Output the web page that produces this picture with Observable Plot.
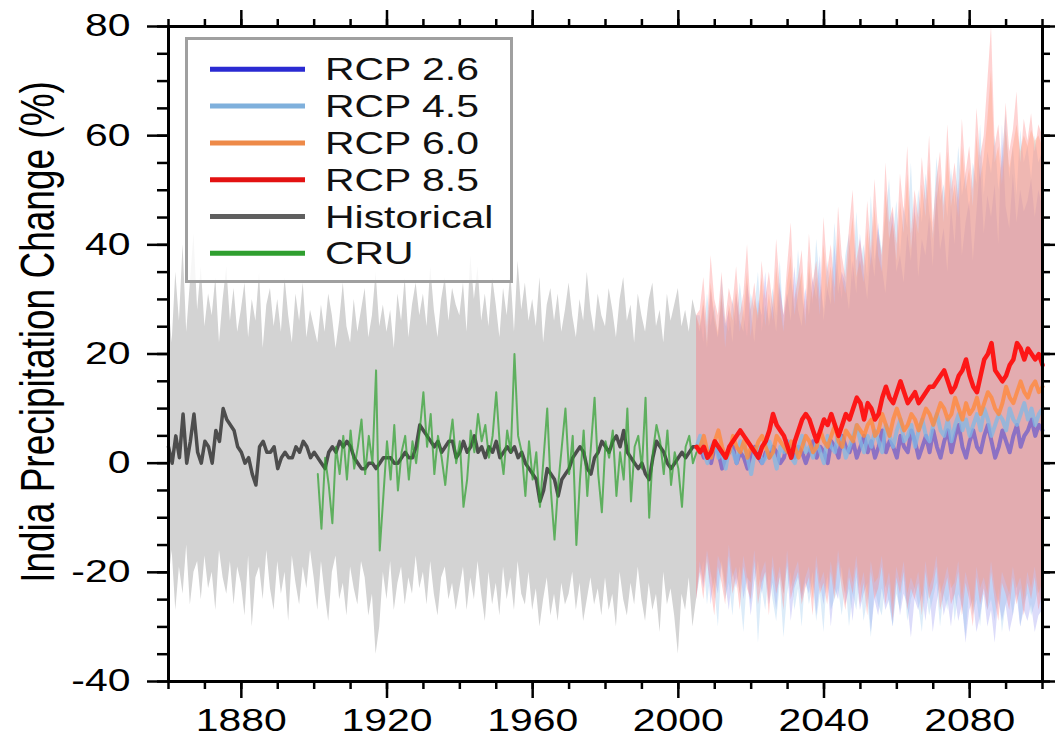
<!DOCTYPE html>
<html><head><meta charset="utf-8">
<script src="https://cdn.jsdelivr.net/npm/d3@7"></script>
<script src="https://cdn.jsdelivr.net/npm/@observablehq/plot@0.6"></script>
<style>
body{margin:0;background:#fff;}
#wrap{position:relative;width:1055px;height:736px;font-family:"Liberation Sans",Arial,sans-serif;}
</style></head>
<body><div id="wrap"></div>
<script>
// ---------- data ----------
const histStart = 1860, cruStart = 1901, rcpStart = 2006;
const histMean = [
3,0,5,1,9,0,4,9,2,0,
4,3,0,6,4,10,8,7,6,3,
2,0,1,-2,-4,3,4,2,2,3,
-1,1,2,1,1,3,2,4,3,1,
2,1,0,-1,2,3,2,4,3,4,
3,1,0,-1,-1,0,0,-1,0,1,
1,1,0,0,1,2,1,1,3,7,
6,5,4,3,4,2,3,4,4,1,
2,4,2,3,5,2,3,1,3,2,
4,1,2,3,2,3,1,2,0,-1,
-2,-3,-7,-5,-1,-2,-3,-6,-3,-2,
-1,1,2,3,2,-1,-2,1,2,4,
3,2,4,5,3,6,2,1,0,-1,
0,-2,-3,1,4,3,2,0,-1,0,
1,2,1,2,3,3];
const histMax = [
30,22,35,26,40,24,33,42,28,36,
25,31,27,34,22,30,36,26,32,24,
28,33,23,30,26,35,21,29,32,25,
30,24,34,27,22,31,26,33,23,28,
25,22,29,24,31,27,21,26,33,25,
22,30,24,28,32,23,27,35,25,29,
24,28,21,31,26,34,23,29,33,27,
31,25,36,28,23,30,34,26,32,29,
27,33,24,38,30,36,26,31,25,34,
29,23,32,27,35,24,37,28,33,26,
30,25,34,22,29,32,26,31,24,28,
33,27,23,30,26,35,28,24,31,27,
25,32,28,23,30,34,26,29,22,31,
27,24,30,33,25,28,22,31,26,29,
32,25,28,24,30,27];
const histMin = [
-22,-16,-27,-19,-24,-15,-26,-20,-18,-25,
-17,-23,-20,-27,-16,-21,-24,-18,-26,-19,
-22,-28,-17,-30,-21,-19,-25,-16,-23,-27,
-18,-24,-20,-29,-17,-22,-26,-19,-23,-16,
-21,-27,-18,-24,-29,-20,-17,-25,-22,-28,
-19,-23,-26,-18,-21,-28,-24,-35,-30,-20,
-25,-18,-27,-22,-19,-26,-21,-24,-17,-23,
-20,-26,-18,-24,-28,-21,-19,-25,-22,-27,
-23,-19,-27,-21,-25,-18,-24,-29,-20,-26,
-22,-28,-19,-25,-21,-27,-18,-24,-26,-20,
-27,-23,-30,-25,-21,-28,-24,-29,-22,-26,
-24,-20,-27,-22,-29,-25,-21,-26,-23,-28,
-21,-27,-24,-30,-20,-25,-28,-22,-26,-19,
-25,-29,-22,-27,-24,-31,-20,-26,-23,-28,
-35,-24,-27,-21,-30,-25];
const cruValues = [
-2,-12,1,-4,-11,3,-2,5,-3,6,
-1,3,8,-2,5,0,17,-16,-6,4,
-3,7,-5,2,5,-3,4,0,6,13,
3,9,-2,5,1,-4,3,8,0,4,
-8,-3,6,2,9,4,7,1,5,13,
3,-2,6,2,20,5,2,-6,4,-3,
2,-8,1,10,-5,-14,-4,3,10,-2,
5,-15,-3,6,-6,3,12,-2,-9,4,
1,6,-6,2,-3,10,-7,3,5,-1,
12,-10,2,7,4,-2,6,-4,2,-1,
-8,3,5,0,2];
const rcp26Mean = [
3,1,2,0,3,2,-1,1,2,3, 0,2,1,-1,2,3,1,0,2,1, 3,2,0,1,4,2,1,3,2,0,
2,4,1,3,2,0,4,3,1,5, 3,2,4,1,3,5,2,4,1,3, 6,2,4,3,1,5,3,2,6,4,
1,3,5,2,6,3,1,4,6,2, 5,7,3,1,4,6,3,2,5,7, 4,1,3,6,4,2,5,7,3,5, 6,8,5,7,6];
const rcp45Mean = [
5,2,0,3,4,1,2,-1,3,2, 0,4,3,1,-2,2,3,0,1,4, 2,-1,3,2,4,1,0,3,5,2,
3,1,4,2,0,5,3,2,6,4, 1,3,5,7,4,2,5,3,6,4, 2,7,5,3,6,8,4,5,7,3,
6,8,5,4,7,9,6,5,8,4, 7,9,6,8,5,7,9,6,10,8, 5,7,9,8,6,10,8,7,9,11, 8,10,7,9,10];
const rcp60Mean = [
3,5,2,1,4,6,3,1,2,5, 3,2,4,1,3,2,4,5,3,1, 2,5,4,3,2,4,3,1,3,5,
4,2,3,6,4,3,5,7,4,3, 6,5,4,7,6,5,7,8,5,6, 9,7,5,8,10,8,6,7,9,8,
6,8,10,9,7,9,11,10,8,9, 12,10,8,11,9,10,12,9,11,13, 12,10,9,11,14,12,11,13,15,13, 12,14,15,13,14];
const rcp85Mean = [
2,3,1,2,4,3,2,1,3,4, 5,6,5,4,3,2,1,3,4,6, 9,7,6,5,3,1,4,6,8,9,
8,6,4,6,8,7,9,7,5,7, 9,8,10,12,11,8,11,10,8,9, 12,14,12,11,13,15,13,11,12,13,
11,12,13,14,14,15,16,17,15,13, 14,16,17,19,16,14,13,16,19,20, 22,17,16,15,16,18,19,22,21,19, 21,20,19,20,18];
const rcp26Max = [
24,29,21,32,26,23,30,25,28,22, 31,26,24,33,28,22,30,27,35,25, 29,24,33,27,31,26,36,28,25,32,
27,34,30,38,26,32,29,40,31,35, 33,28,37,31,42,35,30,39,34,44, 36,31,40,46,35,38,33,42,37,48,
34,41,38,45,36,50,39,43,35,47, 40,52,38,44,48,37,46,55,42,49, 45,51,40,62,47,43,53,44,50,46, 48,52,45,50,47];
const rcp26Min = [
-19,-23,-17,-26,-21,-24,-18,-22,-27,-20, -23,-19,-25,-21,-28,-22,-18,-24,-20,-26, -22,-27,-20,-24,-19,-29,-23,-21,-25,-22,
-24,-20,-28,-22,-26,-21,-30,-23,-25,-19, -26,-23,-29,-21,-27,-24,-22,-31,-25,-28, -23,-27,-25,-30,-22,-28,-24,-26,-32,-25,
-27,-24,-29,-23,-31,-26,-22,-28,-25,-30, -24,-29,-26,-33,-27,-25,-31,-28,-24,-30, -27,-33,-25,-29,-26,-31,-28,-24,-30,-27, -29,-26,-31,-28,-27];
const rcp45Max = [
27,22,31,25,29,23,34,26,24,30, 25,33,27,23,31,28,35,24,29,26, 32,27,37,25,30,34,28,39,31,26,
35,29,41,33,28,37,31,44,35,30, 38,42,33,46,36,40,34,49,37,43, 39,45,52,41,48,38,47,43,55,40,
50,44,53,46,42,56,48,51,45,54, 47,58,49,53,46,55,51,62,49,57, 53,60,50,56,64,52,58,49,61,55, 58,52,60,55,57];
const rcp45Min = [
-21,-18,-26,-20,-23,-30,-19,-25,-22,-28, -20,-24,-31,-21,-26,-19,-33,-23,-27,-20, -25,-29,-22,-32,-24,-20,-27,-23,-30,-21,
-26,-22,-29,-24,-31,-20,-27,-25,-23,-28, -22,-30,-24,-27,-21,-29,-25,-32,-23,-26, -28,-22,-26,-30,-24,-27,-21,-29,-25,-23,
-26,-31,-23,-28,-25,-22,-30,-24,-27,-21, -29,-24,-26,-32,-23,-28,-25,-30,-22,-27, -25,-29,-23,-31,-26,-24,-28,-22,-30,-26, -24,-28,-26,-23,-27];
const rcp60Max = [
25,30,22,33,27,24,31,21,29,26, 32,24,28,35,23,30,27,34,25,31, 26,36,29,24,33,38,27,31,35,25,
37,30,34,27,40,32,36,29,42,34, 31,39,45,34,37,33,43,36,47,38, 35,50,41,44,37,48,42,53,39,46,
42,51,45,55,41,48,53,44,57,47, 51,45,58,50,54,47,60,52,56,63, 72,55,58,51,61,54,58,62,57,60, 58,61,59,60,58];
const rcp60Min = [
-18,-22,-16,-20,-25,-17,-19,-23,-15,-21, -19,-24,-17,-21,-22,-16,-23,-20,-18,-25, -17,-22,-19,-24,-16,-23,-20,-18,-24,-21,
-19,-25,-17,-22,-20,-24,-18,-23,-16,-21, -24,-19,-22,-17,-23,-20,-25,-18,-22,-21, -17,-23,-20,-26,-19,-22,-18,-24,-21,-23,
-20,-25,-18,-23,-21,-17,-24,-22,-19,-23, -22,-18,-25,-20,-23,-27,-19,-23,-21,-24, -18,-23,-26,-20,-22,-24,-19,-23,-21,-25, -20,-23,-19,-24,-22];
const rcp85Max = [
28,34,25,38,30,27,35,26,32,29, 36,27,31,40,28,33,26,37,30,35, 29,41,32,27,36,44,30,34,39,28,
42,33,37,30,45,35,40,32,47,38, 34,43,50,37,41,36,48,39,52,42, 38,55,44,47,40,53,46,58,42,50,
45,56,48,60,44,52,57,47,62,50, 55,48,63,53,58,50,65,56,60,70, 80,58,62,54,66,57,61,68,55,63, 59,64,57,62,60];
const rcp85Min = [
-20,-25,-18,-23,-28,-19,-22,-26,-17,-24, -21,-27,-19,-23,-25,-18,-26,-22,-20,-28, -19,-24,-21,-27,-18,-25,-22,-20,-26,-23,
-21,-28,-19,-24,-22,-26,-20,-25,-18,-23, -27,-21,-24,-19,-26,-22,-28,-20,-25,-23, -19,-26,-22,-29,-21,-24,-20,-27,-23,-25,
-22,-28,-20,-25,-23,-19,-27,-24,-21,-26, -24,-20,-28,-22,-25,-30,-21,-26,-23,-27, -20,-25,-29,-22,-24,-27,-21,-26,-23,-28, -22,-25,-21,-27,-24];

const xMajorTicks = [1880, 1920, 1960, 2000, 2040, 2080];
const xMinorTicks = [1860,1870,1880,1890,1900,1910,1920,1930,1940,1950,1960,1970,1980,1990,2000,2010,2020,2030,2040,2050,2060,2070,2080,2090,2100];
const yMajorTicks = [-40, -20, 0, 20, 40, 60, 80];
const yMinorTicks = [-40,-35,-30,-25,-20,-15,-10,-5,0,5,10,15,20,25,30,35,40,45,50,55,60,65,70,75,80];
const yTitle = "India Precipitation Change (%)";
const legendLabels = ["RCP 2.6", "RCP 4.5", "RCP 6.0", "RCP 8.5", "Historical", "CRU"];
const legendColors = ["#2a2ad2", "#7fb0dc", "#ee8a48", "#e31212", "#5f5f5f", "#2f9f2f"];

// ---------- tables ----------
const hist = histMean.map((v, i) => ({year: histStart + i, mean: v, lo: histMin[i], hi: histMax[i]}));
const cru = cruValues.map((v, i) => ({year: cruStart + i, value: v}));
const lastH = hist[hist.length - 1];
const scenarios = [
  {mean: rcp26Mean, lo: rcp26Min, hi: rcp26Max, band: "#8c8cf0", bandOp: 0.3, line: "#3535d8", lineOp: 0.5, w: 4},
  {mean: rcp45Mean, lo: rcp45Min, hi: rcp45Max, band: "#8cc0ec", bandOp: 0.3, line: "#7fb8e6", lineOp: 0.75, w: 4},
  {mean: rcp60Mean, lo: rcp60Min, hi: rcp60Max, band: "#ffa064", bandOp: 0.3, line: "#ff8a3c", lineOp: 0.8, w: 4},
  {mean: rcp85Mean, lo: rcp85Min, hi: rcp85Max, band: "#ff8080", bandOp: 0.35, line: "#ff0a0a", lineOp: 0.92, w: 4.5}
];
const rows = s => [{year: lastH.year, mean: lastH.mean, lo: lastH.lo, hi: lastH.hi},
  ...s.mean.map((v, i) => ({year: rcpStart + i, mean: v, lo: s.lo[i], hi: s.hi[i]}))];

const fmt = d => String(d);
const blank = () => "";
const chart = Plot.plot({
  width: 1055, height: 736,
  marginLeft: 168, marginRight: 13, marginTop: 26, marginBottom: 55,
  style: {fontFamily: "'Liberation Sans', Arial, sans-serif", background: "white", color: "black"},
  x: {domain: [1860, 2100], label: null},
  y: {domain: [-40, 80], label: null},
  marks: [
    Plot.areaY(hist, {x: "year", y1: "lo", y2: "hi", fill: "#d3d3d3"}),
    ...scenarios.map(s => Plot.areaY(rows(s), {x: "year", y1: "lo", y2: "hi", fill: s.band, fillOpacity: s.bandOp})),
    Plot.lineY(hist, {x: "year", y: "mean", stroke: "#4d4d4d", strokeWidth: 3.5}),
    Plot.lineY(cru, {x: "year", y: "value", stroke: "#2ca02c", strokeOpacity: 0.7, strokeWidth: 2}),
    ...scenarios.map(s => Plot.lineY(rows(s), {x: "year", y: "mean", stroke: s.line, strokeOpacity: s.lineOp, strokeWidth: s.w})),
    Plot.axisX(xMinorTicks, {anchor: "bottom", tickSize: 8, tickFormat: blank, strokeWidth: 2.5, label: null}),
    Plot.axisX(xMajorTicks, {anchor: "bottom", tickSize: 17, tickPadding: 10, tickFormat: fmt, fontSize: 31, strokeWidth: 2.5, label: null}),
    Plot.axisX(xMinorTicks, {anchor: "top", tickSize: 8, tickFormat: blank, strokeWidth: 2.5, label: null}),
    Plot.axisX(xMajorTicks, {anchor: "top", tickSize: 17, tickFormat: blank, strokeWidth: 2.5, label: null}),
    Plot.axisY(yMinorTicks, {anchor: "left", tickSize: 11, tickFormat: blank, strokeWidth: 2.5, label: null}),
    Plot.axisY(yMajorTicks, {anchor: "left", tickSize: 21, tickPadding: 17, tickFormat: fmt, fontSize: 31, strokeWidth: 2.5, label: null}),
    Plot.axisY(yMinorTicks, {anchor: "right", tickSize: 7, tickFormat: blank, strokeWidth: 2.5, label: null}),
    Plot.axisY(yMajorTicks, {anchor: "right", tickSize: 13, tickFormat: blank, strokeWidth: 2.5, label: null}),
    Plot.frame({stroke: "black", strokeWidth: 3}),
    Plot.text([yTitle], {text: d => d, frameAnchor: "left", textAnchor: "middle", lineAnchor: "middle", rotate: -90, dx: -130, dy: -22, fontSize: 37, fill: "black"})
  ]
});
document.getElementById("wrap").appendChild(chart);

// horizontal stretch of the glyphs, as in the reference
function stretch(el, sx, sy) {
  const t = el.getAttribute("transform");
  if (t) el.setAttribute("transform", `${t} scale(${sx},${sy})`);
  else {
    const x = +el.getAttribute("x") || 0, y = +el.getAttribute("y") || 0;
    el.setAttribute("transform", `translate(${x},${y}) scale(${sx},${sy}) translate(${-x},${-y})`);
  }
}
chart.querySelectorAll('g[aria-label="x-axis tick label"] text, g[aria-label="y-axis tick label"] text')
  .forEach(el => stretch(el, 1.32, 1));
chart.querySelectorAll('g[aria-label="text"] text').forEach(el => stretch(el, 1, 1.32));

// legend
const leg = d3.select("#wrap").append("svg")
  .attr("width", 1055).attr("height", 736)
  .style("position", "absolute").style("left", "0px").style("top", "0px");
leg.append("rect").attr("x", 186.5).attr("y", 38.5).attr("width", 325).attr("height", 243)
  .attr("fill", "white").attr("fill-opacity", 0.82).attr("stroke", "#a0a0a0").attr("stroke-width", 3);
legendLabels.forEach((lab, i) => {
  const cy = 69.3 + i * 36.8;
  leg.append("line").attr("x1", 210).attr("x2", 305).attr("y1", cy).attr("y2", cy)
    .attr("stroke", legendColors[i]).attr("stroke-width", 5);
  leg.append("text").attr("transform", `translate(325,${cy + 11}) scale(1.32,1)`)
    .attr("font-family", "'Liberation Sans', Arial, sans-serif").attr("font-size", 31)
    .attr("fill", "#111").text(lab);
});
</script></body></html>
